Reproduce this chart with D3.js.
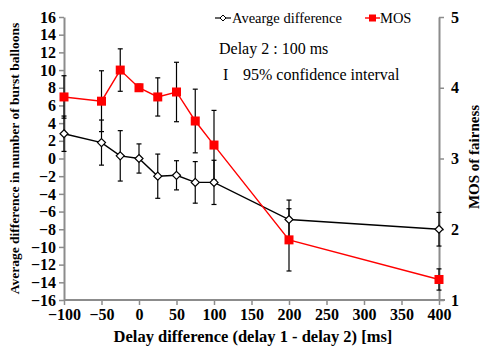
<!DOCTYPE html>
<html>
<head>
<meta charset="UTF-8">
<title>Delay difference</title>
<script src="https://cdn.jsdelivr.net/npm/d3@7"></script>
<style>
  body { margin: 0; background: #fff; }
  svg text { font-family: "Liberation Serif", Tinos, "Times New Roman", Times, "DejaVu Serif", serif; }
</style>
</head>
<body>
<script>
// data
const delays = [-100, -50, -25, 0, 25, 50, 75, 100, 200, 400];
const avgDiff = [2.8, 1.8, 0.3, 0.0, -2.0, -1.9, -2.7, -2.7, -6.9, -8.0];
const avgCI = [2.0, 2.55, 2.85, 1.65, 2.5, 1.65, 2.35, 2.5, 2.2, 1.9];
const mos = [3.87, 3.81, 4.25, 4.0, 3.87, 3.94, 3.53, 3.19, 1.85, 1.29];
const mosCI = [0.30, 0.43, 0.30, 0.05, 0.27, 0.42, 0.45, 0.49, 0.44, 0.15];
const xTicks = [-100, -50, 0, 50, 100, 150, 200, 250, 300, 350, 400];
const yLeftTicks = d3.range(-16, 17, 2);
const yRightTicks = [1, 2, 3, 4, 5];

const width = 483, height = 346;
const plotL = 64, plotR = 439, plotT = 17, plotB = 300;
const serif = '"Liberation Serif", Tinos, "Times New Roman", Times, "DejaVu Serif", serif';

const x = d3.scaleLinear().domain([-100, 400]).range([plotL, plotR]);
const yL = d3.scaleLinear().domain([-16, 16]).range([plotB, plotT]);
const yR = d3.scaleLinear().domain([1, 5]).range([plotB, plotT]);

const svg = d3.select('body').append('svg')
    .attr('width', width)
    .attr('height', height)
    .attr('font-family', serif);

const axisColor = '#8c8c8c';

function styleAxis(g) {
    g.attr('font-family', serif).attr('font-size', 16).attr('font-weight', 'bold');
    g.select('.domain').attr('stroke', axisColor).attr('stroke-width', 2);
    g.selectAll('.tick line').attr('stroke', axisColor).attr('stroke-width', 1.5);
    g.selectAll('.tick text').attr('fill', '#000');
}

svg.append('g')
    .attr('transform', `translate(0,${plotB})`)
    .call(d3.axisBottom(x).tickValues(xTicks).tickSize(5).tickSizeOuter(0).tickPadding(4))
    .call(styleAxis)
    .call(g => g.select('.domain').attr('d', `M${plotL},0H${plotR + 6}`));

svg.append('g')
    .attr('transform', `translate(${plotL},0)`)
    .call(d3.axisLeft(yL).tickValues(yLeftTicks).tickSize(5).tickSizeOuter(0).tickPadding(3))
    .call(styleAxis);

svg.append('g')
    .attr('transform', `translate(${plotR},0)`)
    .call(d3.axisRight(yR).tickValues(yRightTicks).tickFormat(d3.format('d')).tickSize(5).tickSizeOuter(0).tickPadding(7))
    .call(styleAxis);

// error bars
function errorBars(vals, ci, y) {
    const g = svg.append('g').attr('stroke', '#000').attr('stroke-width', 1.2);
    delays.forEach((d, i) => {
        const cx = x(d), y1 = y(vals[i] + ci[i]), y2 = y(vals[i] - ci[i]);
        g.append('line').attr('x1', cx).attr('x2', cx).attr('y1', y1).attr('y2', y2);
        g.append('line').attr('x1', cx - 2.5).attr('x2', cx + 2.5).attr('y1', y1).attr('y2', y1);
        g.append('line').attr('x1', cx - 2.5).attr('x2', cx + 2.5).attr('y1', y2).attr('y2', y2);
    });
}
errorBars(avgDiff, avgCI, yL);
errorBars(mos, mosCI, yR);

// average difference line
svg.append('path')
    .datum(avgDiff)
    .attr('fill', 'none')
    .attr('stroke', '#000')
    .attr('stroke-width', 1.4)
    .attr('d', d3.line().x((d, i) => x(delays[i])).y(d => yL(d)));

svg.append('g')
    .selectAll('path')
    .data(avgDiff)
    .join('path')
    .attr('transform', (d, i) => `translate(${x(delays[i])},${yL(d)})`)
    .attr('d', 'M0,-4L4,0L0,4L-4,0Z')
    .attr('fill', '#fff')
    .attr('stroke', '#000')
    .attr('stroke-width', 1.2);

// MOS line
svg.append('path')
    .datum(mos)
    .attr('fill', 'none')
    .attr('stroke', '#ff0000')
    .attr('stroke-width', 1.4)
    .attr('d', d3.line().x((d, i) => x(delays[i])).y(d => yR(d)));

svg.append('g')
    .selectAll('rect')
    .data(mos)
    .join('rect')
    .attr('x', (d, i) => x(delays[i]) - 4.5)
    .attr('y', d => yR(d) - 4.5)
    .attr('width', 9)
    .attr('height', 9)
    .attr('fill', '#ff0000');

// axis titles
svg.append('text')
    .attr('transform', `translate(19,${(plotT + plotB) / 2}) rotate(-90)`)
    .attr('text-anchor', 'middle')
    .attr('font-weight', 'bold')
    .attr('font-size', 13.5)
    .text('Average difference in number of burst balloons');

svg.append('text')
    .attr('transform', `translate(479,157) rotate(-90)`)
    .attr('text-anchor', 'middle')
    .attr('font-weight', 'bold')
    .attr('font-size', 15)
    .text('MOS of fairness');

svg.append('text')
    .attr('x', 253)
    .attr('y', 342)
    .attr('text-anchor', 'middle')
    .attr('font-weight', 'bold')
    .attr('font-size', 16.5)
    .text('Delay difference (delay 1 - delay 2) [ms]');

// legend
const lg = svg.append('g').attr('font-size', 14.5);
lg.append('line').attr('x1', 215).attr('x2', 231).attr('y1', 18).attr('y2', 18)
    .attr('stroke', '#000').attr('stroke-width', 1.2);
lg.append('path').attr('transform', 'translate(223,18)').attr('d', 'M0,-3L3,0L0,3L-3,0Z')
    .attr('fill', '#fff').attr('stroke', '#000').attr('stroke-width', 1);
lg.append('text').attr('x', 232).attr('y', 23).text('Avearge difference');
lg.append('line').attr('x1', 365).attr('x2', 380).attr('y1', 18).attr('y2', 18)
    .attr('stroke', '#ff0000').attr('stroke-width', 1.4);
lg.append('rect').attr('x', 369).attr('y', 14.5).attr('width', 7).attr('height', 7).attr('fill', '#ff0000');
lg.append('text').attr('x', 380).attr('y', 23).text('MOS');

const notes = svg.append('g').attr('font-size', 16);
notes.append('text').attr('x', 219).attr('y', 54).text('Delay 2 : 100 ms');
notes.append('text').attr('x', 223).attr('y', 80).text('I');
notes.append('text').attr('x', 243).attr('y', 80).text('95% confidence interval');
</script>
</body>
</html>
